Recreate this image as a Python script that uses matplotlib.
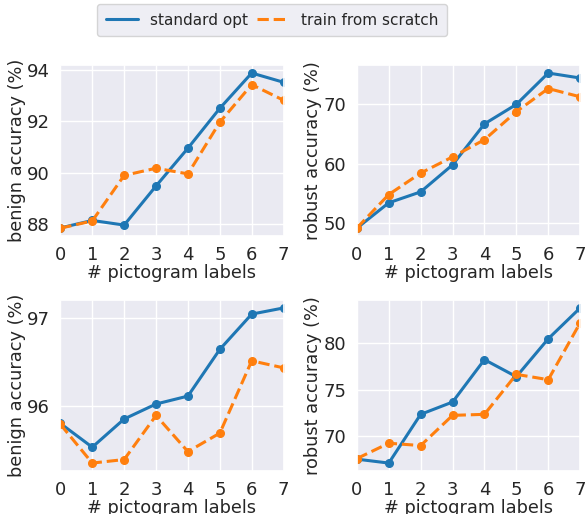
import matplotlib
matplotlib.use("Agg")
import matplotlib.pyplot as plt
import seaborn as sns

n_labels = [0, 1, 2, 3, 4, 5, 6, 7]

# top row
benign_std_a = [87.86, 88.15, 87.97, 89.49, 90.96, 92.51, 93.88, 93.52]
benign_scratch_a = [87.85, 88.13, 89.90, 90.18, 89.96, 91.97, 93.43, 92.82]
robust_std_a = [49.17, 53.44, 55.28, 59.83, 66.72, 70.00, 75.28, 74.44]
robust_scratch_a = [49.20, 54.83, 58.44, 61.17, 64.06, 68.78, 72.67, 71.28]

# bottom row
benign_std_b = [95.80, 95.53, 95.85, 96.02, 96.11, 96.64, 97.04, 97.11]
benign_scratch_b = [95.79, 95.35, 95.39, 95.89, 95.48, 95.69, 96.51, 96.43]
robust_std_b = [67.54, 67.12, 72.35, 73.67, 78.22, 76.39, 80.46, 83.77]
robust_scratch_b = [67.60, 69.25, 69.00, 72.24, 72.35, 76.64, 76.07, 82.17]

yticks = {
    "a_benign": [88, 90, 92, 94],
    "a_robust": [50, 60, 70],
    "b_benign": [96, 97],
    "b_robust": [70, 75, 80],
}

blue = "#1f77b4"
orange = "#ff7f0e"

sns.set_theme(style="darkgrid")
plt.rcParams["font.family"] = ["DejaVu Sans"]

fig = plt.figure(figsize=(5.86, 5.14), dpi=100)

lefts = [0.103, 0.609]
bottoms = [0.541, 0.084]
w, h = 0.381, 0.332

panels = [
    (0, 0, benign_std_a, benign_scratch_a, "benign accuracy (%)", yticks["a_benign"]),
    (0, 1, robust_std_a, robust_scratch_a, "robust accuracy (%)", yticks["a_robust"]),
    (1, 0, benign_std_b, benign_scratch_b, "benign accuracy (%)", yticks["b_benign"]),
    (1, 1, robust_std_b, robust_scratch_b, "robust accuracy (%)", yticks["b_robust"]),
]

for row, col, std, scratch, ylab, yt in panels:
    ax = fig.add_axes([lefts[col], bottoms[row], w, h])
    ax.plot(n_labels, std, color=blue, lw=2.2, marker="o", ms=5.5, label="standard opt")
    ax.plot(n_labels, scratch, color=orange, lw=2.2, ls="--", marker="o", ms=5.5,
            label="train from scratch")
    ax.set_xlim(0, 7)
    ax.set_xticks(n_labels)
    ax.set_yticks(yt)
    ax.set_xlabel("# pictogram labels", fontsize=12.8, labelpad=0)
    ax.set_ylabel(ylab, fontsize=12.8, labelpad=1)
    ax.tick_params(labelsize=13, pad=1.5)

labels = ["standard opt", "train from scratch"]
leg_handles = [plt.Line2D([], [], color=blue, lw=2.2),
               plt.Line2D([], [], color=orange, lw=2.2, ls="--")]
fig.legend(leg_handles, labels, loc="center", ncol=2, fontsize=11,
           bbox_to_anchor=(0.464, 0.961), handlelength=2.1, handletextpad=0.78,
           columnspacing=0.6, borderpad=0.55)

fig.savefig("out.png", dpi=100)
